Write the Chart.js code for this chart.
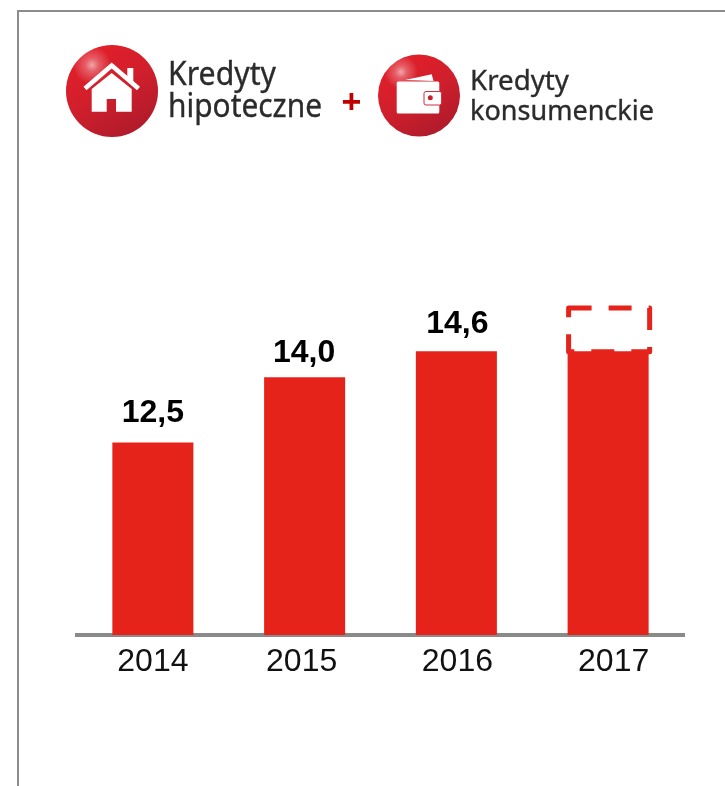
<!DOCTYPE html>
<html lang="pl">
<head>
<meta charset="utf-8">
<title>Kredyty hipoteczne + Kredyty konsumenckie</title>
<script src="https://cdn.jsdelivr.net/npm/chart.js@4"></script>
<style>
    html, body { margin: 0; padding: 0; background: #fff; overflow: hidden; }
    #frame { position: absolute; left: 17px; top: 10px; width: 720px; height: 790px;
             border-left: 2px solid #8c8c8c; border-top: 2px solid #8c8c8c; }
    #graphCanvas { position: absolute; left: 0; top: 0; }
    #logos { position: absolute; left: 0; top: 0; }
    #logos text { font-family: "Noto Sans", sans-serif; fill: #2b2b2b; stroke: #2b2b2b; stroke-width: 0.35; }
</style>
</head>
<body>
<div id="frame"></div>
<canvas id="graphCanvas" width="725" height="786"></canvas>

<svg id="logos" width="725" height="150" viewBox="0 0 725 150">
    <defs>
        <linearGradient id="ballBase" x1="0.25" y1="0.1" x2="0.75" y2="0.95">
            <stop offset="0" stop-color="#e01f2a"/>
            <stop offset="0.45" stop-color="#d11f2c"/>
            <stop offset="1" stop-color="#b01b2b"/>
        </linearGradient>
        <radialGradient id="ballGlow">
            <stop offset="0" stop-color="#fff" stop-opacity="0.6"/>
            <stop offset="0.35" stop-color="#fff" stop-opacity="0.28"/>
            <stop offset="1" stop-color="#fff" stop-opacity="0"/>
        </radialGradient>
    </defs>

    <!-- dom -->
    <circle cx="112" cy="91" r="46" fill="url(#ballBase)"/>
    <circle cx="92" cy="65" r="19" fill="url(#ballGlow)"/>
    <polygon points="127.3,68 133.3,68 133.3,83 127.3,78" fill="#fff"/>
    <polyline points="85,88.5 111.7,65.5 138.5,88.5" fill="none" stroke="#fff" stroke-width="4.6"/>
    <path d="M91.7 89 L111.7 73 L131.7 89 V111.7 H116 V99 H106.7 V111.7 H91.7 Z" fill="#fff"/>
    <text x="168" y="85" font-size="32" textLength="108" lengthAdjust="spacingAndGlyphs">Kredyty</text>
    <text x="168" y="117" font-size="32" textLength="154" lengthAdjust="spacingAndGlyphs">hipoteczne</text>

    <text x="351.5" y="113" font-size="34" font-weight="700" text-anchor="middle"
          style="font-family:'Liberation Sans',sans-serif;fill:#c00000;stroke:none">+</text>

    <!-- portfel -->
    <circle cx="419" cy="95.5" r="41" fill="url(#ballBase)"/>
    <circle cx="401" cy="72" r="17" fill="url(#ballGlow)"/>
    <polygon points="405,80 431.7,74.3 433.5,81" fill="#fff"/>
    <rect x="396.7" y="81.5" width="42.6" height="32" rx="1.5" fill="#fff"/>
    <rect x="424" y="91.5" width="17.5" height="13.5" rx="2" fill="#fff" stroke="#d0303a" stroke-width="1"/>
    <circle cx="430.3" cy="97.7" r="2.5" fill="#c8202c"/>
    <text x="470" y="89.5" font-size="28" textLength="99" lengthAdjust="spacingAndGlyphs">Kredyty</text>
    <text x="470" y="119.5" font-size="28" textLength="184" lengthAdjust="spacingAndGlyphs">konsumenckie</text>
</svg>

<script>
// dane
let years = ['2014', '2015', '2016', '2017'];
let solidValues = [12.5, 14.0, 14.6, 14.6];
let dashedFrom = [null, null, null, 14.6];
let dashedTo = [null, null, null, 15.65];

let barRed = '#E5231B';
let textFont = '"Liberation Sans", Arial, sans-serif';
// etykiety w oryginale nie sa idealnie rowno nad i pod slupkami
let yearNudge = [0, -3, 1, 5.5];
let valueNudge = [0, -0.5, 1, 0];
let valueLift = [20, 15, 18, 0];

// podpisy wartosci i lat, ramka z przerywana linia
let labelsPlugin = {
    id: 'labelsPlugin',
    afterDatasetsDraw(chart) {
        let ctx = chart.ctx;
        let solid = chart.getDatasetMeta(0).data;
        let dashed = chart.getDatasetMeta(1).data;

        ctx.save();
        dashed.forEach(function(bar, i) {
            if (dashedTo[i] === null) return;
            let left = bar.x - bar.width / 2 + 1;
            let top = bar.y + 2.5;
            ctx.strokeStyle = barRed;
            ctx.lineWidth = 5;
            ctx.lineJoin = 'round';
            ctx.setLineDash([23, 17]);
            ctx.strokeRect(left, top, bar.width, bar.base - bar.y - 2);
        });
        ctx.setLineDash([]);

        ctx.textAlign = 'center';
        ctx.fillStyle = '#000';
        ctx.textBaseline = 'alphabetic';
        solid.forEach(function(bar, i) {
            if (dashedTo[i] !== null) return;
            ctx.font = 'bold 32px ' + textFont;
            ctx.fillText(solidValues[i].toFixed(1).replace('.', ','), bar.x + valueNudge[i], bar.y - valueLift[i]);
        });

        ctx.fillStyle = '#111';
        ctx.font = '32px ' + textFont;
        solid.forEach(function(bar, i) {
            ctx.fillText(years[i], chart.scales.x.getPixelForValue(i) + yearNudge[i], 671);
        });
        ctx.restore();
    }
};

function showGraph() {
    let canvas = document.getElementById('graphCanvas').getContext('2d');
    return new Chart(canvas, {
        type: 'bar',
        data: {
            labels: years,
            datasets: [{
                data: solidValues,
                backgroundColor: barRed,
                barPercentage: 0.534,
                categoryPercentage: 1,
                grouped: false
            }, {
                data: years.map(function(y, i) { return [dashedFrom[i], dashedTo[i]]; }),
                backgroundColor: 'rgba(0,0,0,0)',
                barPercentage: 0.534,
                categoryPercentage: 1,
                grouped: false
            }]
        },
        options: {
            responsive: false,
            animation: false,
            layout: { padding: { left: 77, right: 41, top: 199, bottom: 151 } },
            plugins: { legend: { display: false }, tooltip: { enabled: false } },
            scales: {
                x: {
                    grid: { display: false, drawTicks: false },
                    border: { color: '#8a8a8a', width: 4 },
                    ticks: { display: false }
                },
                y: { display: false, min: 8.07, max: 18.1 }
            }
        },
        plugins: [labelsPlugin]
    });
}

showGraph();
</script>
</body>
</html>
